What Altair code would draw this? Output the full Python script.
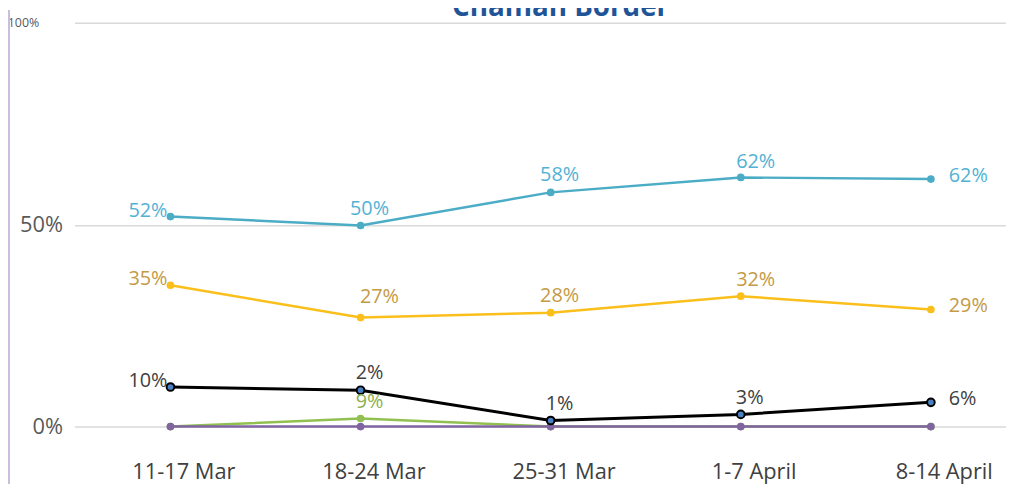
import altair as alt
import pandas as pd

weeks = ["11-17 Mar", "18-24 Mar", "25-31 Mar", "1-7 April", "8-14 April"]
series_names = ["Series 1", "Series 2", "Series 3", "Series 4", "Series 5"]

blue_vals = [52, 49.8, 58, 61.7, 61.3]
orange_vals = [35, 27, 28.2, 32.3, 29]
green_vals = [0, 2, 0, 0, 0]
purple_vals = [0, 0, 0, 0, 0]
black_vals = [9.8, 9, 1.5, 3, 6]

blue_labels = ["52%", "50%", "58%", "62%", "62%"]
orange_labels = ["35%", "27%", "28%", "32%", "29%"]
green_labels = ["", "9%", "", "", ""]
purple_labels = ["", "", "", "", ""]
black_labels = ["10%", "2%", "1%", "3%", "6%"]

# label placement keys (style only)
blue_pos = ["L", "A", "A", "A2", "R"]
orange_pos = ["L", "AR", "A", "A2", "R"]
green_pos = ["", "A", "", "", ""]
purple_pos = ["", "", "", "", ""]
black_pos = ["L", "A", "A", "A", "R"]

line_colors = ["#4bacc6", "#fbbf1c", "#92c050", "#8064a2", "#000000"]
label_colors = ["#52b2d4", "#c49a45", "#8db04e", "#8064a2", "#404040"]

rows = []
for name, vals, labs, poss in zip(
    series_names,
    [blue_vals, orange_vals, green_vals, purple_vals, black_vals],
    [blue_labels, orange_labels, green_labels, purple_labels, black_labels],
    [blue_pos, orange_pos, green_pos, purple_pos, black_pos],
):
    for w, v, l, p in zip(weeks, vals, labs, poss):
        rows.append({"series": name, "week": w, "value": v, "label": l, "pos": p})
df = pd.DataFrame(rows)

base = alt.Chart(df)
x_enc = alt.X(
    "week:N",
    sort=weeks,
    scale=alt.Scale(type="point", domain=weeks, padding=0.45, align=0.561),
    axis=alt.Axis(
        title=None, domain=False, ticks=False, labelAngle=0,
        labelFont="Open Sans", labelFontSize=22, labelColor="#404040",
        labelBaseline="alphabetic",
        labelPadding=52, labelOffset=13, grid=False,
    ),
)
y_enc = alt.Y(
    "value:Q",
    scale=alt.Scale(domain=[0, 100], nice=False, zero=True),
    axis=alt.Axis(
        title=None, values=[0, 50, 100], domain=False, ticks=False,
        grid=True, gridColor="#d9d9d9", gridWidth=1.5,
        labelExpr="datum.value + '%'",
        labelColor="#595959", labelFont="Open Sans",
        labelFontSize={"condition": {"test": "datum.value == 100", "value": 12.5}, "value": 22},
        labelPadding={"condition": {"test": "datum.value == 100", "value": 36}, "value": 12},
    ),
)
label_color_enc = alt.Color(
    "series:N",
    scale=alt.Scale(domain=series_names, range=label_colors),
    legend=None,
)

layers = []
for name, col in zip(series_names, line_colors):
    sub = base.transform_filter(alt.datum.series == name)
    w = 3 if name == "Series 5" else 2.5
    layers.append(
        sub.mark_line(strokeWidth=w, color=col).encode(x=x_enc, y=y_enc)
    )
    if name == "Series 5":
        layers.append(
            sub.mark_point(filled=True, size=60, fill="#4a7fc1", stroke="#000000",
                           strokeWidth=2, opacity=1).encode(x=x_enc, y=y_enc)
        )
    else:
        layers.append(
            sub.mark_point(filled=True, size=60, color=col, opacity=1).encode(x=x_enc, y=y_enc)
        )

placements = {
    "L": dict(align="right", dx=-3, dy=-6),
    "A": dict(align="center", dx=9, dy=-17),
    "AR": dict(align="center", dx=19, dy=-21),
    "A2": dict(align="center", dx=15, dy=-16),
    "R": dict(align="left", dx=18, dy=-3),
}
for key, opts in placements.items():
    layers.append(
        base.transform_filter(alt.datum.pos == key)
        .mark_text(font="Open Sans", fontSize=20, baseline="middle", **opts)
        .encode(x=x_enc, y=y_enc, text="label:N", color=label_color_enc)
    )

title_layer = alt.Chart(alt.Data(values=[{"t": "Chaman Border"}])).mark_text(
    font="Open Sans", fontSize=28, fontWeight="bold", color="#1f5597",
    baseline="alphabetic", align="center",
).encode(x=alt.value(490), y=alt.value(-7), text="t:N")

border_layer = alt.Chart(alt.Data(values=[{"a": 1}])).mark_rule(
    color="#c9bde0", strokeWidth=2
).encode(x=alt.value(-66), y=alt.value(-13), y2=alt.value(465))

chart = alt.layer(border_layer, title_layer, *layers).properties(
    width=939, height=407,
    autosize=alt.AutoSizeParams(type="none"),
    padding={"left": 67, "top": 13, "right": 0, "bottom": 58},
).configure_view(stroke=None)

chart.save("out.html", embed_options={"renderer": "svg", "actions": False})
